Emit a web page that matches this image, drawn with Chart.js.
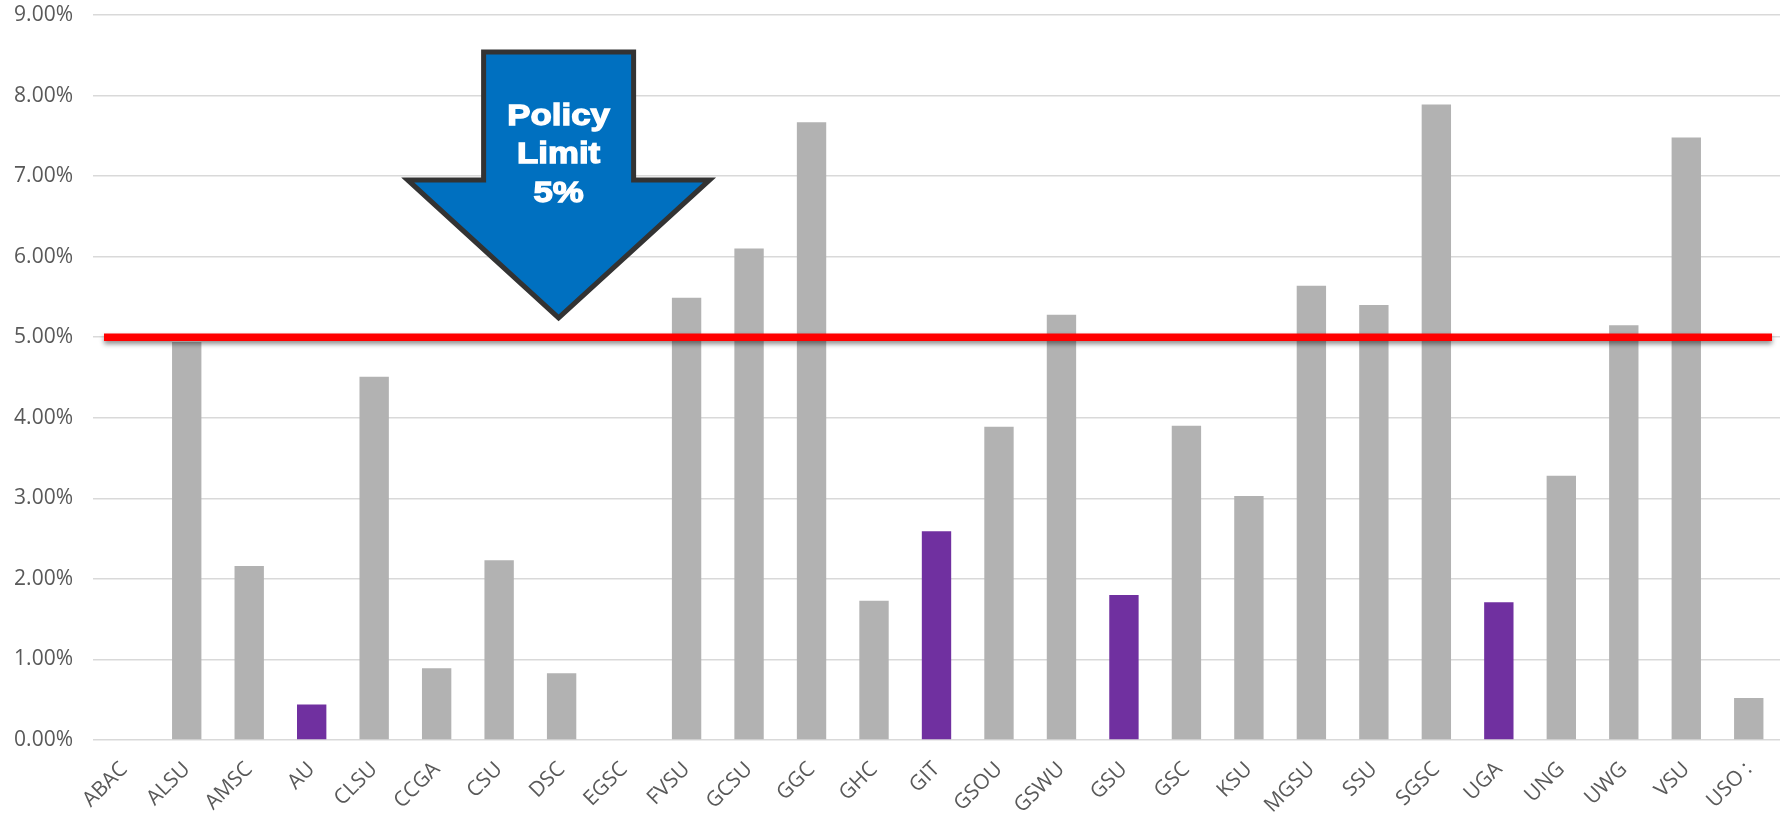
<!DOCTYPE html>
<html>
<head>
<meta charset="utf-8">
<script src="https://cdn.jsdelivr.net/npm/chart.js@4"></script>
<style>
  html, body { margin: 0; padding: 0; background: #fff; }
  #wrap { width: 1786px; height: 815px; }
</style>
</head>
<body>
<div id="wrap"><canvas id="myChart"></canvas></div>
<script>
const schools = ["ABAC", "ALSU", "AMSC", "AU", "CLSU", "CCGA", "CSU", "DSC", "EGSC", "FVSU",
  "GCSU", "GGC", "GHC", "GIT", "GSOU", "GSWU", "GSU", "GSC", "KSU", "MGSU",
  "SSU", "SGSC", "UGA", "UNG", "UWG", "VSU", "USO :"];
const rates = [0, 4.94, 2.16, 0.44, 4.51, 0.89, 2.23, 0.83, 0, 5.49,
  6.10, 7.67, 1.73, 2.59, 3.89, 5.28, 1.80, 3.90, 3.03, 5.64,
  5.40, 7.89, 1.71, 3.28, 5.15, 7.48, 0.52];
const researchSchools = ["AU", "GIT", "GSU", "UGA"];
const policyLimit = 5;
const arrowLabel = ["Policy", "Limit", "5%"];

const GREY = "#b2b2b2";
const PURPLE = "#7030a0";

// red limit line + blue arrow callout
const limitPlugin = {
  id: "limitPlugin",
  afterDatasetsDraw(chart) {
    const { ctx, chartArea, scales } = chart;
    const y = scales.y.getPixelForValue(policyLimit);

    ctx.save();
    ctx.shadowColor = "rgba(0,0,0,0.45)";
    ctx.shadowBlur = 5;
    ctx.shadowOffsetY = 3;
    ctx.strokeStyle = "#ff0000";
    ctx.lineWidth = 7.5;
    ctx.beginPath();
    ctx.moveTo(chartArea.left + 11, y);
    ctx.lineTo(chartArea.right - 8, y);
    ctx.stroke();
    ctx.restore();

    // arrow pointing down to the limit line, tip above DSC
    const tipX = scales.x.getPixelForValue(7) - 3;
    const tipY = scales.y.getPixelForValue(5.24);
    const headW = 151, headH = 138, shaftW = 75, shaftH = 128;
    const headTop = tipY - headH;
    const shaftTop = headTop - shaftH;
    ctx.save();
    ctx.beginPath();
    ctx.moveTo(tipX, tipY);
    ctx.lineTo(tipX - headW, headTop);
    ctx.lineTo(tipX - shaftW, headTop);
    ctx.lineTo(tipX - shaftW, shaftTop);
    ctx.lineTo(tipX + shaftW, shaftTop);
    ctx.lineTo(tipX + shaftW, headTop);
    ctx.lineTo(tipX + headW, headTop);
    ctx.closePath();
    ctx.fillStyle = "#0070c0";
    ctx.fill();
    ctx.lineWidth = 5;
    ctx.lineJoin = "miter";
    ctx.strokeStyle = "#333333";
    ctx.stroke();

    // label is a bit wider/heavier than plain Arial bold
    ctx.fillStyle = "#ffffff";
    ctx.strokeStyle = "#ffffff";
    ctx.lineWidth = 1.3;
    ctx.font = "bold 30px 'Liberation Sans', Arial, sans-serif";
    ctx.textAlign = "center";
    ctx.textBaseline = "alphabetic";
    arrowLabel.forEach((t, i) => {
      ctx.save();
      ctx.translate(tipX, shaftTop + 73 + i * 38.5);
      ctx.scale(1.16, 1);
      ctx.fillText(t, 0, 0);
      ctx.strokeText(t, 0, 0);
      ctx.restore();
    });
    ctx.restore();
  },
};

const ctx = document.getElementById("myChart").getContext("2d");
new Chart(ctx, {
  type: "bar",
  data: {
    labels: schools,
    datasets: [
      {
        data: rates,
        backgroundColor: schools.map((s) => (researchSchools.includes(s) ? PURPLE : GREY)),
        borderWidth: 0,
        barPercentage: 0.47,
        categoryPercentage: 1,
      },
    ],
  },
  options: {
    responsive: true,
    maintainAspectRatio: false,
    animation: false,
    layout: { padding: { top: 15, right: 6, left: 0, bottom: 0 } },
    plugins: {
      legend: { display: false },
      tooltip: { enabled: false },
    },
    scales: {
      x: {
        grid: { display: false, drawTicks: false },
        border: { display: false },
        ticks: {
          color: "#595959",
          font: { family: "'Open Sans'", size: 21 },
          minRotation: 45,
          maxRotation: 45,
          padding: 17,
        },
        afterFit(scale) {
          scale.height = 75;
          scale.paddingLeft = 0;
          scale.paddingRight = 0;
        },
      },
      y: {
        min: 0,
        max: 9,
        grid: { color: "#d9d9d9", lineWidth: 1.5, drawTicks: false },
        border: { display: false },
        ticks: {
          stepSize: 1,
          color: "#595959",
          font: { family: "'Open Sans'", size: 21 },
          padding: 20,
          callback: (v) => v.toFixed(2) + "%",
        },
        afterFit(scale) {
          scale.width = 93;
          scale.paddingTop = 0;
          scale.paddingBottom = 0;
        },
      },
    },
  },
  plugins: [limitPlugin],
});
</script>
</body>
</html>
